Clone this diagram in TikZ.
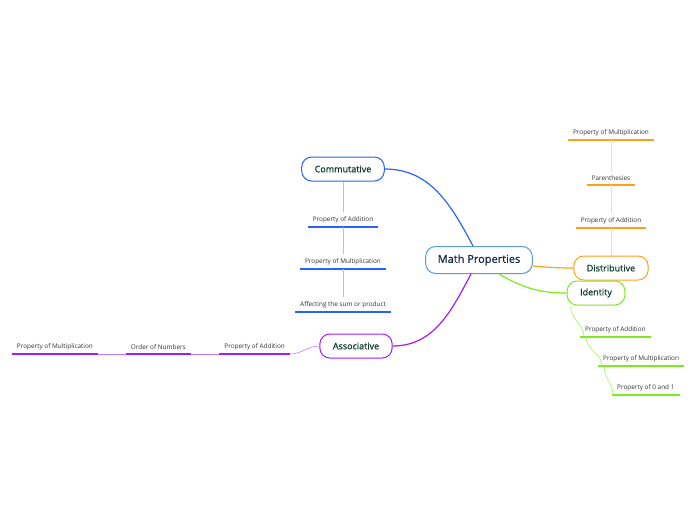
\documentclass[tikz,border=0pt]{standalone}
\usepackage{fontspec}
\setmainfont{Open Sans}
\newfontfamily\topicfont{Open Sans}[FakeBold=0.6]
\usepackage{xcolor}
\usepackage{tikz}
\usetikzlibrary{calc,positioning}
\definecolor{centralline}{HTML}{5B9BD5}
\definecolor{centraltext}{HTML}{13294B}
\definecolor{topictext}{HTML}{0E3B2C}
\definecolor{leaftext}{HTML}{333333}
\definecolor{commblue}{HTML}{2962FF}
\definecolor{distorange}{HTML}{FF9F1A}
\definecolor{identgreen}{HTML}{7FEA1E}
\definecolor{assocpurple}{HTML}{A51CF0}
\tikzstyle{central} = [draw=centralline, fill=white, line width=1pt,
    rectangle, rounded corners=10pt, minimum height=27pt, inner xsep=12pt,
    font=\topicfont\fontsize{11}{13}\selectfont, text=centraltext]
\tikzstyle{topic} = [fill=white, line width=1pt, rectangle, rounded corners=10pt,
    minimum height=24pt, inner xsep=13pt,
    font=\topicfont\fontsize{9}{11}\selectfont, text=topictext]
\tikzstyle{leaf} = [inner xsep=5pt, inner ysep=4pt,
    font=\fontsize{6.4}{8}\selectfont, text=leaftext]
\tikzstyle{branch} = [line width=1.2pt]

\begin{document}
\begin{tikzpicture}[x=1pt,y=-1pt]
\useasboundingbox (0,0) rectangle (696,520);
\node[central] (math) at (479,260) {Math Properties};
\node[topic, draw=commblue] (comm) at (343,169) {Commutative};
\node[topic, draw=distorange] (dist) at (611,268) {Distributive};
\node[topic, draw=identgreen] (ident) at (596,293) {Identity};
\node[topic, draw=assocpurple] (assoc) at (356,346) {Associative};

% commutative
\node[leaf, anchor=south] (comm1) at (343,227) {Property of Addition};
\node[leaf, anchor=south] (comm2) at (343,269) {Property of Multiplication};
\node[leaf, anchor=south] (comm3) at (343,312) {Affecting the sum or product};
% distributive
\node[leaf, anchor=south] (dist1) at (611,228) {Property of Addition};
\node[leaf, anchor=south] (dist2) at (611,185) {Parenthesies};
\node[leaf, anchor=south] (dist3) at (611,140) {Property of Multiplication};
% identity
\node[leaf, anchor=south west] (ident1) at (580,337) {Property of Addition};
\node[leaf, anchor=south west] (ident2) at (598,366) {Property of Multiplication};
\node[leaf, anchor=south west] (ident3) at (612,395) {Property of 0 and 1};
% associative
\node[leaf, anchor=south east] (assoc1) at (290,354) {Property of Addition};
\node[leaf, anchor=south east] (assoc2) at (191,354) {Order of Numbers};
\node[leaf, anchor=south east] (assoc3) at (98,354) {Property of Multiplication};

\foreach \n in {comm1,comm2,comm3}
  \draw[commblue, line width=1.2pt] (\n.south west) -- (\n.south east);
\foreach \n in {dist1,dist2,dist3}
  \draw[distorange, line width=1.2pt] (\n.south west) -- (\n.south east);
\foreach \n in {ident1,ident2,ident3}
  \draw[identgreen, line width=1.2pt] (\n.south west) -- (\n.south east);
\foreach \n in {assoc1,assoc2,assoc3}
  \draw[assocpurple, line width=1.2pt] (\n.south west) -- (\n.south east);

\draw[branch, commblue] (comm.east) to[out=0,in=118] ([xshift=-6pt]math.north);
\draw[branch, assocpurple] ([xshift=-8pt]math.south) to[out=-118,in=0] (assoc.east);
\draw[branch, distorange] ([yshift=-6pt]math.east) to[out=-5,in=180] (dist.west);
\draw[branch, identgreen] ([xshift=20pt]math.south) to[out=-30,in=180] (ident.west);

\draw[commblue!40, line width=0.8pt] (comm.south) -- (comm1.north);
\draw[commblue!40, line width=0.8pt] (comm1.south) -- (comm2.north);
\draw[commblue!40, line width=0.8pt] (comm2.south) -- (comm3.north);
\draw[distorange!40, line width=0.8pt] (dist.north) -- (dist1.south);
\draw[distorange!40, line width=0.8pt] (dist1.north) -- (dist2.south);
\draw[distorange!40, line width=0.8pt] (dist2.north) -- (dist3.south);
\draw[identgreen!70, line width=0.6pt] ([xshift=4pt,yshift=-1pt]ident.south west) to[out=-90,in=90] ([xshift=4pt]ident1.south west);
\draw[identgreen!70, line width=0.6pt] ([xshift=6pt]ident1.south west) to[out=-90,in=90] ([xshift=4pt]ident2.south west);
\draw[identgreen!70, line width=0.6pt] ([xshift=6pt]ident2.south west) to[out=-90,in=90] ([xshift=1pt]ident3.south west);
\draw[assocpurple!60, line width=0.6pt] (assoc.west) to[out=180,in=0] (assoc1.south east);
\draw[assocpurple!60, line width=0.6pt] (assoc1.south west) -- (assoc2.south east);
\draw[assocpurple!60, line width=0.6pt] (assoc2.south west) -- (assoc3.south east);
\end{tikzpicture}
\end{document}
